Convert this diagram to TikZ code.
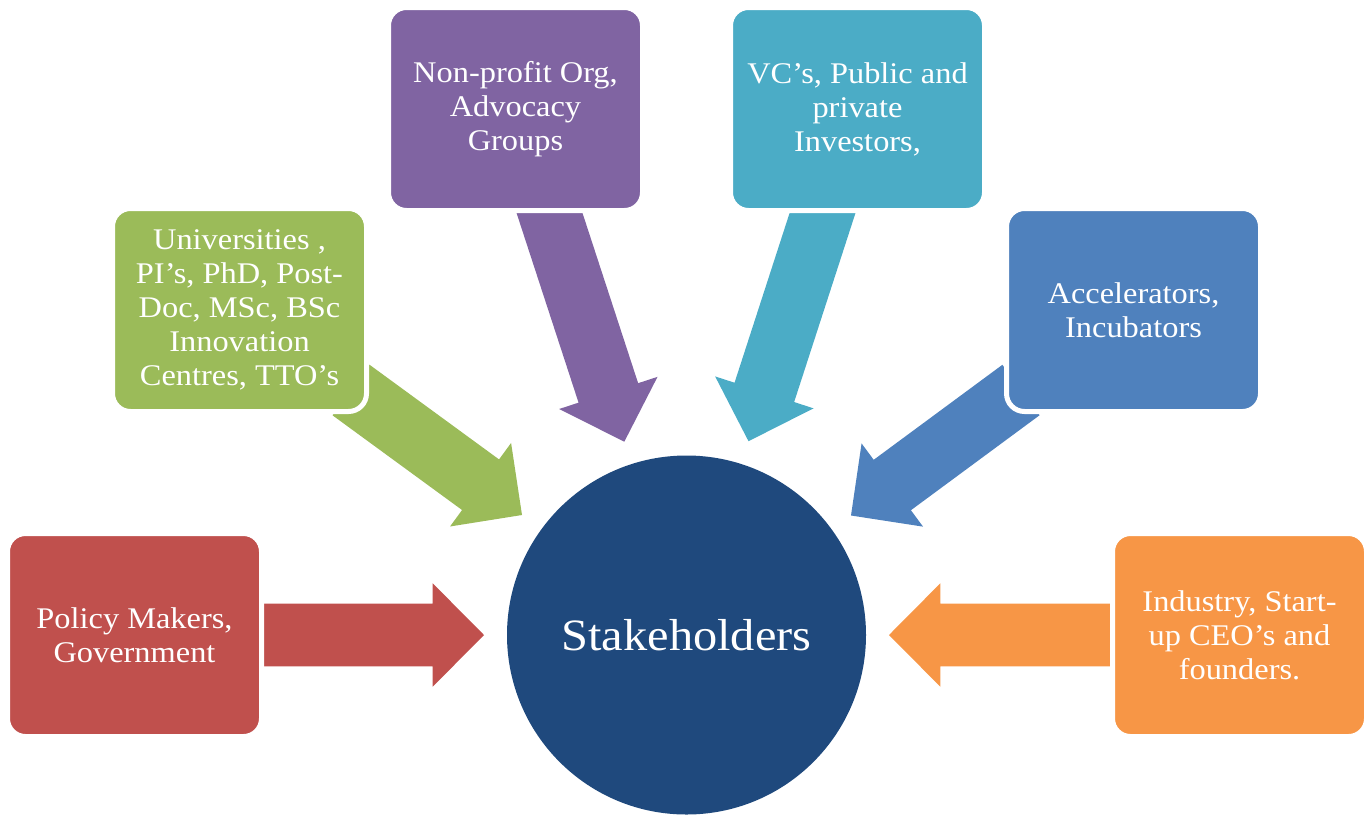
\documentclass[tikz,border=0pt]{standalone}
\usepackage{fontspec}
\setmainfont{Liberation Serif}[FakeStretch=1.08]
\usetikzlibrary{calc,backgrounds}

\definecolor{policyred}{HTML}{C0504D}
\definecolor{unigreen}{HTML}{9BBB59}
\definecolor{ngopurple}{HTML}{8064A2}
\definecolor{investteal}{HTML}{4BACC6}
\definecolor{accelblue}{HTML}{4F81BD}
\definecolor{industryorange}{HTML}{F79646}
\definecolor{hubblue}{HTML}{1F497D}

\tikzset{
  stakebox/.style={rectangle, rounded corners=13.5pt, draw=white, line width=3.75pt,
    minimum width=190.5pt, minimum height=152.25pt, inner sep=0pt,
    text=white, align=center, font=\fontsize{22.5}{25.5}\selectfont},
  hub/.style={circle, fill=hubblue, minimum size=269.25pt, inner sep=0pt,
    text=white, font=\fontsize{33.6}{40}\selectfont}
}

% block arrow: colour, tail, tip
\newcommand{\blockarrow}[3]{%
  \coordinate (#2-neck) at ($(#3)!38.5pt!(#2)$);
  \fill[#1] ($(#2)!23.5pt!90:(#3)$) -- ($(#2-neck)!23.5pt!90:(#3)$)
    -- ($(#2-neck)!38.8pt!90:(#3)$) -- (#3)
    -- ($(#2-neck)!38.8pt!-90:(#3)$) -- ($(#2-neck)!23.5pt!-90:(#3)$)
    -- ($(#2)!23.5pt!-90:(#3)$) -- cycle;
}

\begin{document}
\begin{tikzpicture}[x=0.75pt,y=0.75pt,yscale=-1,xscale=1]
\useasboundingbox (0,0) rectangle (1370,815);

%Shape: Circle
\node[hub] (hub) at (686.5,635) {Stakeholders};

%Shape: Rounded Rectangles
\node[stakebox, fill=policyred] (policy) at (134.5,635) {Policy Makers,\\Government};
\node[stakebox, fill=unigreen] (uni) at (239.5,310) {Universities ,\\PI’s, PhD, Post-\\Doc, MSc, BSc\\Innovation\\Centres, TTO’s};
\node[stakebox, fill=ngopurple] (ngo) at (515.5,109) {Non-profit Org,\\Advocacy\\Groups};
\node[stakebox, fill=investteal] (invest) at (857.5,109) {VC’s, Public and\\private\\Investors,};
\node[stakebox, fill=accelblue] (accel) at (1133.5,310) {Accelerators,\\Incubators};
\node[stakebox, fill=industryorange] (industry) at (1239.5,635) {Industry, Start-\\up CEO’s and\\founders.};

%Arrow ends
\coordinate (policy-tail) at (250,635);   \coordinate (policy-tip) at (484,635);
\coordinate (uni-tail) at (351,390);      \coordinate (uni-tip) at (522,515);
\coordinate (ngo-tail) at (542,190);      \coordinate (ngo-tip) at (624.3,441.7);
\coordinate (invest-tail) at (830,190);   \coordinate (invest-tip) at (748.5,441.2);
\coordinate (accel-tail) at (1021,390);   \coordinate (accel-tip) at (851,515.5);
\coordinate (industry-tail) at (1125,635); \coordinate (industry-tip) at (889,635);

%Block Arrows
\begin{pgfonlayer}{background}
\blockarrow{policyred}{policy-tail}{policy-tip}
\blockarrow{unigreen}{uni-tail}{uni-tip}
\blockarrow{ngopurple}{ngo-tail}{ngo-tip}
\blockarrow{investteal}{invest-tail}{invest-tip}
\blockarrow{accelblue}{accel-tail}{accel-tip}
\blockarrow{industryorange}{industry-tail}{industry-tip}
\end{pgfonlayer}

\end{tikzpicture}
\end{document}
